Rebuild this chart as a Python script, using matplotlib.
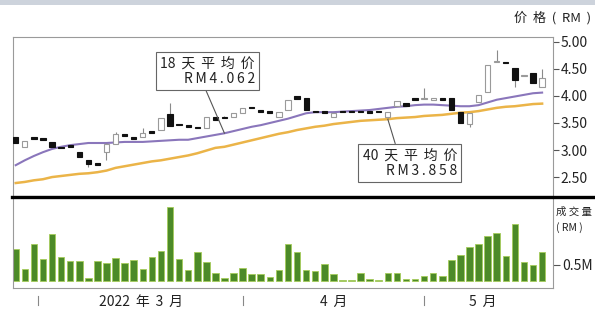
import matplotlib
matplotlib.use('Agg')
import matplotlib.pyplot as plt
import matplotlib.transforms as mtransforms
from matplotlib.patches import Rectangle
from matplotlib.lines import Line2D
import numpy as np

plt.rcParams['font.family'] = ['Noto Sans CJK SC', 'DejaVu Sans']

# 59 trading days, Mar - mid May 2022
opens = [3.24, 3.06, 3.22, 3.20, 3.15, 3.05, 3.07, 2.96, 2.81, 2.74,
         2.96, 3.12, 3.30, 3.22, 3.24, 3.33, 3.37, 3.67, 3.47, 3.45,
         3.42, 3.41, 3.61, 3.60, 3.61, 3.69, 3.79, 3.74, 3.70, 3.61,
         3.74, 4.00, 3.96, 3.71, 3.70, 3.61, 3.72, 3.71, 3.71, 3.70,
         3.72, 3.61, 3.82, 3.87, 3.94, 3.94, 3.92, 3.94, 3.96, 3.70,
         3.48, 3.89, 4.07, 4.63, 4.63, 4.52, 4.37, 4.43, 4.17]
closes = [3.13, 3.17, 3.21, 3.19, 3.06, 3.04, 3.06, 2.87, 2.74, 2.73,
          3.12, 3.30, 3.26, 3.21, 3.31, 3.32, 3.59, 3.44, 3.46, 3.43,
          3.40, 3.61, 3.56, 3.59, 3.69, 3.78, 3.77, 3.70, 3.69, 3.70,
          3.93, 3.94, 3.74, 3.70, 3.69, 3.69, 3.70, 3.70, 3.70, 3.69,
          3.70, 3.70, 3.91, 3.81, 3.93, 3.95, 3.96, 3.93, 3.74, 3.50,
          3.69, 4.02, 4.57, 4.64, 4.61, 4.30, 4.38, 4.24, 4.33]
highs = [3.24, 3.17, 3.22, 3.20, 3.15, 3.05, 3.07, 2.96, 2.81, 2.74,
         3.13, 3.34, 3.30, 3.22, 3.41, 3.33, 3.59, 3.87, 3.47, 3.45,
         3.42, 3.61, 3.61, 3.63, 3.69, 3.78, 3.79, 3.74, 3.70, 3.70,
         3.93, 4.00, 3.96, 3.71, 3.70, 3.69, 3.72, 3.71, 3.71, 3.70,
         3.72, 3.70, 3.91, 3.87, 3.94, 4.15, 3.96, 3.94, 3.96, 3.70,
         3.69, 4.02, 4.57, 4.85, 4.63, 4.52, 4.38, 4.43, 4.50]
lows = [3.13, 3.06, 3.21, 3.19, 3.06, 3.04, 3.06, 2.87, 2.68, 2.73,
        2.82, 3.12, 3.26, 3.21, 3.24, 3.32, 3.37, 3.44, 3.46, 3.43,
        3.40, 3.41, 3.56, 3.59, 3.61, 3.69, 3.77, 3.70, 3.69, 3.61,
        3.74, 3.94, 3.74, 3.70, 3.69, 3.61, 3.70, 3.70, 3.70, 3.69,
        3.70, 3.59, 3.82, 3.81, 3.93, 3.94, 3.92, 3.93, 3.74, 3.50,
        3.42, 3.89, 4.07, 4.63, 4.61, 4.17, 4.37, 4.24, 4.17]
ma18 = [2.72, 2.81, 2.89, 2.96, 3.02, 3.06, 3.09, 3.11, 3.13, 3.13,
        3.13, 3.14, 3.15, 3.15, 3.15, 3.16, 3.17, 3.18, 3.19, 3.19,
        3.22, 3.25, 3.28, 3.31, 3.35, 3.39, 3.43, 3.46, 3.50, 3.54,
        3.58, 3.63, 3.68, 3.70, 3.70, 3.70, 3.71, 3.72, 3.73, 3.74,
        3.76, 3.78, 3.80, 3.81, 3.83, 3.84, 3.84, 3.83, 3.82, 3.81,
        3.81, 3.83, 3.88, 3.93, 3.96, 3.99, 4.02, 4.05, 4.062]
ma40 = [2.39, 2.41, 2.44, 2.46, 2.50, 2.52, 2.54, 2.56, 2.57, 2.59,
        2.62, 2.67, 2.70, 2.73, 2.76, 2.79, 2.81, 2.84, 2.87, 2.90,
        2.94, 2.99, 3.04, 3.06, 3.10, 3.14, 3.18, 3.22, 3.26, 3.30,
        3.33, 3.37, 3.40, 3.43, 3.45, 3.48, 3.50, 3.52, 3.54, 3.55,
        3.56, 3.57, 3.59, 3.60, 3.61, 3.63, 3.64, 3.65, 3.67, 3.69,
        3.70, 3.72, 3.75, 3.78, 3.80, 3.81, 3.83, 3.85, 3.858]
# volume in RM million
volume = [0.97, 0.36, 1.12, 0.67, 1.42, 0.73, 0.61, 0.61, 0.09, 0.61,
          0.55, 0.70, 0.55, 0.64, 0.36, 0.73, 0.91, 2.24, 0.67, 0.33,
          0.88, 0.58, 0.24, 0.09, 0.24, 0.39, 0.21, 0.21, 0.12, 0.33,
          1.12, 0.88, 0.33, 0.30, 0.52, 0.21, 0.03, 0.03, 0.24, 0.06,
          0.03, 0.24, 0.24, 0.06, 0.06, 0.15, 0.24, 0.15, 0.64, 0.79,
          1.03, 1.12, 1.36, 1.45, 0.76, 1.73, 0.58, 0.48, 0.88]

price_ticks = [2.5, 3.0, 3.5, 4.0, 4.5, 5.0]
price_labels = ['2.50', '3.00', '3.50', '4.00', '4.50', '5.00']
month_ticks = [2.5, 25.0, 45.0]
month_labels = ['2022 年 3 月', '4 月', '5 月']

TS = '\u2009'  # thin space, comes from DejaVu


def wide(s):
    # the print uses loose letter spacing
    return s.replace(' ', ' ' + TS)


def tracked(s):
    return TS.join(s)


days = np.arange(len(opens))
W, H = 595, 311
txt = '#222222'

fig = plt.figure(figsize=(W / 100, H / 100), dpi=100)
fig.patch.set_facecolor('white')
# light band at the very top
fig.add_artist(Rectangle((0, 1 - 5 / H), 1, 5 / H, transform=fig.transFigure,
                         facecolor='#cdd3dc', edgecolor='none'))

ax = fig.add_axes([13 / W, 1 - 196 / H, 540 / W, 159 / H])
axv = fig.add_axes([13 / W, 1 - 288 / H, 540 / W, 91 / H])

frame = '#9a9a9a'
for a in (ax, axv):
    a.set_xlim(-0.3, 59.2)
    for s in a.spines.values():
        s.set_color(frame)
        s.set_linewidth(0.8)
    a.set_xticks([])

# ---- price panel
ax.set_ylim(2.15, 5.09)
ax.plot(days, ma40, color='#ebb448', lw=1.8, zorder=2)
ax.plot(days, ma18, color='#8a76bb', lw=1.5, zorder=2)

o = np.array(opens); c = np.array(closes)
up = c >= o
bottoms = np.minimum(o, c)
heights = np.maximum(np.abs(c - o), 0.025)
ax.vlines(days, lows, highs, color='#8a8a8a', lw=0.8, zorder=3)
ax.bar(days[up], heights[up], bottom=bottoms[up], width=0.58,
       facecolor='white', edgecolor='#9a9a9a', lw=0.8, zorder=4)
ax.bar(days[~up], heights[~up], bottom=bottoms[~up], width=0.58,
       facecolor='#111111', edgecolor='#111111', lw=0.8, zorder=4)

ax.yaxis.tick_right()
ax.set_yticks(price_ticks)
ax.set_yticklabels(price_labels)
ax.tick_params(axis='y', length=4, width=0.8, color='#555555', pad=1.5,
               labelsize=10, labelcolor=txt)

fig.text(591 / W, 1 - 18 / H, wide('价 格 ( RM )'), ha='right', va='center',
         fontsize=9.5, color=txt)

box = dict(boxstyle='square,pad=0.3', facecolor='white', edgecolor='#666666', lw=0.8)
ax.annotate(wide('18 天 平 均 价') + '\n' + tracked('RM4.062'), xy=(23, ma18[23]),
            xytext=(255, H - 71), textcoords='figure pixels', ha='right', va='center',
            multialignment='right', fontsize=10, color=txt, linespacing=1.15,
            bbox=box, zorder=6,
            arrowprops=dict(arrowstyle='-', color='#555555', lw=0.8,
                            shrinkA=0, shrinkB=0, relpos=(0.46, 0)))
ax.annotate(wide('40 天 平 均 价') + '\n' + tracked('RM3.858'), xy=(41, ma40[41]),
            xytext=(457, H - 163), textcoords='figure pixels', ha='right', va='center',
            multialignment='right', fontsize=10, color=txt, linespacing=1.15,
            bbox=box, zorder=6,
            arrowprops=dict(arrowstyle='-', color='#555555', lw=0.8,
                            shrinkA=0, shrinkB=0, relpos=(0.36, 1)))

# black separator
fig.add_artist(Line2D([12 / W, 1], [1 - 196.5 / H] * 2, transform=fig.transFigure,
                      color='black', lw=2.4))

# ---- volume panel
axv.set_ylim(-0.2, 2.55)
axv.bar(days, volume, width=0.72, facecolor='#4c8a28', edgecolor='#a6cc5a', lw=0.6)
axv.yaxis.tick_right()
axv.set_yticks([0.5])
axv.set_yticklabels(['0.5M'])
axv.tick_params(axis='y', length=5, width=0.8, color='#555555', pad=1.5,
                labelsize=10, labelcolor=txt)
axv.spines['top'].set_visible(False)
fig.text(556 / W, 1 - 212 / H, '成 交 量', ha='left', va='center', fontsize=7.5, color=txt)
fig.text(556 / W, 1 - 228 / H, '( RM )', ha='left', va='center', fontsize=7.5, color=txt)

# month ticks and labels under the volume panel
trans = mtransforms.blended_transform_factory(axv.transData, axv.transAxes)
for m in month_ticks:
    axv.add_line(Line2D([m, m], [-0.09, -0.19], transform=trans, color='#888888',
                        lw=0.8, clip_on=False))
label_x = [(month_ticks[0] + month_ticks[1]) / 2, (month_ticks[1] + month_ticks[2]) / 2,
           (month_ticks[2] + 59.2) / 2 - 0.6]
for x, lab in zip(label_x, month_labels):
    axv.text(x, -0.15, wide(lab), transform=trans, ha='center', va='center', fontsize=10,
             color=txt, clip_on=False)

fig.savefig('out.png', dpi=100)
